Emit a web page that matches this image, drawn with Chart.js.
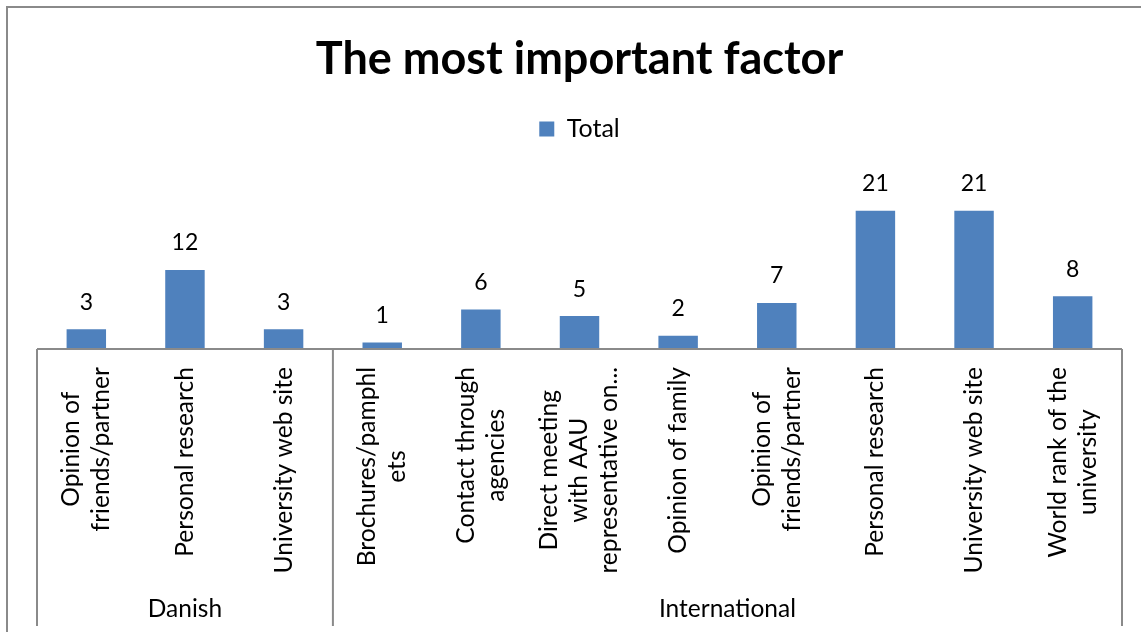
<!DOCTYPE html>
<html>
<head>
<meta charset="utf-8">
<title>The most important factor</title>
<script src="https://cdn.jsdelivr.net/npm/chart.js@4/dist/chart.umd.min.js"></script>
<style>
  html, body { margin: 0; padding: 0; background: #ffffff; }
  canvas { display: block; }
</style>
</head>
<body>
<canvas id="chart" width="1141" height="635"></canvas>
<script>
// Survey answers: the single most important factor, split by student origin
const groupNames = ['Danish', 'International'];
const groupSizes = [3, 8];

// Category names, already wrapped into lines as they appear under the axis
const categoryLines = [
  ['Opinion of', 'friends/partner'],
  ['Personal research'],
  ['University web site'],
  ['Brochures/pamphl', 'ets'],
  ['Contact through', 'agencies'],
  ['Direct meeting', 'with AAU', 'representative on...'],
  ['Opinion of family'],
  ['Opinion of', 'friends/partner'],
  ['Personal research'],
  ['University web site'],
  ['World rank of the', 'university']
];

const totals = [3, 12, 3, 1, 6, 5, 2, 7, 21, 21, 8];
const seriesName = 'Total';

const FONT = 'Lato, "Open Sans", sans-serif';
const BAR_BLUE = '#4F81BD';
const AXIS_GREY = '#8a8a8a';

// Two-level category axis, value labels and the chart frame, drawn on top of Chart.js scales
const excelAxis = {
  id: 'excelAxis',
  beforeDraw(chart) {
    const { ctx, width, height } = chart;
    ctx.save();
    ctx.fillStyle = '#ffffff';
    ctx.fillRect(0, 0, width, height);
    ctx.strokeStyle = AXIS_GREY;
    ctx.lineWidth = 2;
    ctx.beginPath();
    ctx.moveTo(7, height - 3);
    ctx.lineTo(7, 7);
    ctx.lineTo(width, 7);
    ctx.stroke();
    ctx.restore();
  },
  afterDatasetsDraw(chart, args, opts) {
    const { ctx, chartArea } = chart;
    const xs = chart.scales.x;
    const base = chartArea.bottom;
    ctx.save();

    // value labels above the bars
    const meta = chart.getDatasetMeta(0);
    ctx.fillStyle = '#000000';
    ctx.font = opts.valueFont;
    ctx.textAlign = 'center';
    ctx.textBaseline = 'middle';
    meta.data.forEach((bar, i) => {
      ctx.fillText(String(chart.data.datasets[0].data[i]), bar.x, bar.y - opts.valueGap);
    });

    // horizontal axis line
    ctx.strokeStyle = AXIS_GREY;
    ctx.lineWidth = 2;
    ctx.beginPath();
    ctx.moveTo(chartArea.left, base);
    ctx.lineTo(chartArea.right, base);
    ctx.stroke();

    // group boundaries
    const edges = [chartArea.left];
    let idx = 0;
    groupSizes.forEach((n, g) => {
      idx += n;
      if (g < groupSizes.length - 1) {
        edges.push((xs.getPixelForValue(idx - 1) + xs.getPixelForValue(idx)) / 2);
      }
    });
    edges.push(chartArea.right);
    ctx.beginPath();
    edges.forEach(x => {
      ctx.moveTo(x, base);
      ctx.lineTo(x, base + opts.axisDepth);
    });
    ctx.stroke();

    // rotated category labels, block ends just below the axis, lines centred
    ctx.font = opts.labelFont;
    ctx.fillStyle = '#000000';
    ctx.textAlign = 'center';
    ctx.textBaseline = 'middle';
    categoryLines.forEach((lines, i) => {
      const x = xs.getPixelForValue(i);
      const len = Math.max(...lines.map(t => ctx.measureText(t).width));
      ctx.save();
      ctx.translate(x, base + opts.labelGap);
      ctx.rotate(-Math.PI / 2);
      lines.forEach((t, j) => {
        ctx.fillText(t, -len / 2, (j - (lines.length - 1) / 2) * opts.lineHeight);
      });
      ctx.restore();
    });

    // group names
    ctx.font = opts.groupFont;
    groupNames.forEach((name, g) => {
      ctx.fillText(name, (edges[g] + edges[g + 1]) / 2, base + opts.groupOffset);
    });

    ctx.restore();
  }
};

new Chart(document.getElementById('chart'), {
  type: 'bar',
  data: {
    labels: categoryLines.map(l => l.join(' ')),
    datasets: [{
      label: seriesName,
      data: totals,
      backgroundColor: BAR_BLUE,
      borderWidth: 0,
      barPercentage: 0.4,
      categoryPercentage: 1.0
    }]
  },
  options: {
    responsive: false,
    animation: false,
    layout: { padding: { left: 37, right: 19, top: 0, bottom: 286 } },
    scales: {
      x: { display: false, offset: true },
      y: { display: false, min: 0, max: 30 }
    },
    plugins: {
      title: {
        display: true,
        text: 'The most important factor',
        color: '#000000',
        font: { family: FONT, size: 45, weight: 'bold', lineHeight: 1.2 },
        padding: { top: 32, bottom: 20.5 }
      },
      legend: {
        display: true,
        position: 'top',
        labels: {
          color: '#000000',
          font: { family: FONT, size: 25 },
          boxWidth: 15,
          boxHeight: 15,
          padding: 10
        }
      },
      tooltip: { enabled: false },
      excelAxis: {
        valueFont: '23px ' + FONT,
        valueGap: 27,
        labelFont: '24.6px ' + FONT,
        groupFont: '24.5px ' + FONT,
        labelGap: 18,
        lineHeight: 30,
        axisDepth: 277,
        groupOffset: 260
      }
    }
  },
  plugins: [excelAxis]
});
</script>
</body>
</html>
